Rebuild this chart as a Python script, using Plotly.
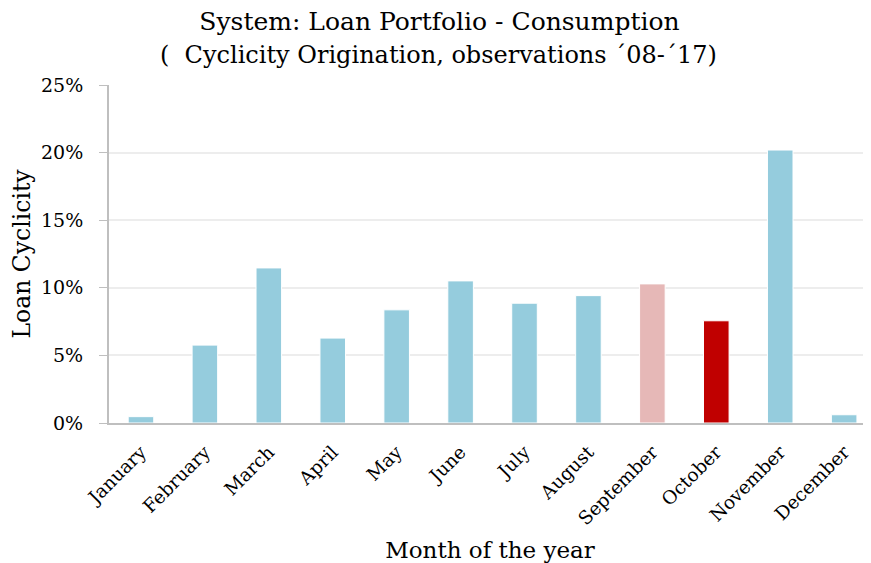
import plotly.graph_objects as go

# monthly loan cyclicity (fraction)
months = ["January", "February", "March", "April", "May", "June",
          "July", "August", "September", "October", "November", "December"]
cyclicity = [0.0047, 0.0576, 0.1147, 0.0628, 0.0837, 0.1051,
             0.0886, 0.0942, 0.1029, 0.0756, 0.2019, 0.0061]
bar_colors = ["#95CCDD"] * 8 + ["#E6B8B7", "#C00000", "#95CCDD", "#95CCDD"]

title_main = "System: Loan Portfolio - Consumption"
title_sub = "(  Cyclicity Origination, observations \u00b408-\u00b417)"

font_family = "Palatino Linotype, Book Antiqua, Palatino, DejaVu Serif, serif"

fig = go.Figure(go.Bar(
    x=months, y=cyclicity,
    marker=dict(color=bar_colors, line=dict(color="#ffffff", width=1)),
))

# page body adds an 8px margin, so the figure is a bit smaller than the window
fig.update_layout(
    width=863, height=555,
    plot_bgcolor="white", paper_bgcolor="white",
    margin=dict(l=101, r=0, t=77, b=140),
    bargap=0.6,
    font=dict(family=font_family, color="#000000"),
    title=dict(
        text=title_main,
        x=0.5, xanchor="center", xref="container", y=0.976, yanchor="middle",
        font=dict(size=25, family=font_family),
    ),
    showlegend=False,
)
# second title line, placed separately to get the wider line spacing
fig.add_annotation(
    text=title_sub, xref="paper", yref="paper", x=0.433, y=1.0888,
    xanchor="center", yanchor="middle", showarrow=False,
    font=dict(size=24, family=font_family),
)

fig.update_yaxes(
    range=[0, 0.25], dtick=0.05, tickformat=".0%",
    showgrid=True, gridcolor="#EDEDED", gridwidth=2,
    showline=True, linecolor="#BFBFBF", linewidth=2,
    ticks="outside", tickcolor="#BFBFBF", ticklen=8, ticklabelstandoff=12,
    tickfont=dict(size=19), zeroline=False, automargin=False,
    title=dict(text="Loan Cyclicity", font=dict(size=23.5), standoff=10),
)
fig.update_xaxes(
    range=[-0.5, 11.42], automargin=False,
    tickangle=-45, tickfont=dict(size=18.5), ticklabelstandoff=9,
    showline=True, linecolor="#BFBFBF", linewidth=2,
    title=dict(text="Month of the year", font=dict(size=23), standoff=14),
)

fig.write_html("out.html")
